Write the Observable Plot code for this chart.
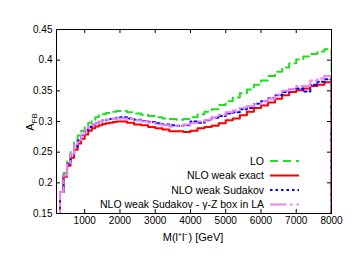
<!DOCTYPE html>
<html>
<head>
<meta charset="utf-8">
<script src="https://cdn.jsdelivr.net/npm/d3@7"></script>
<script src="https://cdn.jsdelivr.net/npm/@observablehq/plot@0.6"></script>
<style>
  html, body { margin: 0; padding: 0; background: #fff; }
  svg { display: block; }
</style>
</head>
<body>
<div id="chart"></div>
<script>
// Bin edges (GeV) of the histograms
const massEdges = [300,400,500,600,700,800,900,1000,1100,1200,1300,1400,1500,1600,1700,1800,1900,2000,
  2200,2400,2600,2800,3000,3200,3400,3600,3800,4000,4200,4400,4600,4800,5000,5200,5400,5600,5800,6000,
  6200,6400,6600,6800,7000,7200,7400,7600,7800,8000];

const loValues = [0.186,0.216,0.236,0.252,0.266,0.277,0.285,0.291,0.298,0.303,0.307,0.310,0.312,0.314,0.315,0.316,0.317,
  0.317,0.315,0.313,0.311,0.309,0.307,0.305,0.304,0.303,0.304,0.307,0.312,0.316,0.320,0.327,0.333,0.339,0.346,0.352,
  0.360,0.367,0.374,0.381,0.388,0.395,0.401,0.406,0.410,0.414,0.418];

const exactValues = [0.185,0.210,0.228,0.241,0.254,0.264,0.272,0.279,0.285,0.289,0.292,0.294,0.296,0.297,0.298,0.299,0.300,
  0.300,0.298,0.295,0.294,0.291,0.289,0.287,0.284,0.284,0.283,0.285,0.289,0.291,0.293,0.297,0.302,0.305,0.310,0.316,
  0.322,0.326,0.331,0.337,0.343,0.348,0.351,0.354,0.358,0.360,0.364];

const sudakovValues = [0.185,0.212,0.231,0.246,0.259,0.269,0.278,0.285,0.291,0.295,0.298,0.300,0.302,0.303,0.304,0.305,0.306,
  0.307,0.305,0.303,0.301,0.299,0.297,0.295,0.294,0.293,0.294,0.300,0.298,0.302,0.306,0.309,0.313,0.315,0.320,0.322,
  0.329,0.333,0.338,0.343,0.348,0.353,0.354,0.349,0.360,0.365,0.369];

const boxValues = [0.185,0.212,0.232,0.247,0.261,0.270,0.279,0.286,0.292,0.296,0.298,0.300,0.302,0.303,0.304,0.305,0.305,
  0.305,0.304,0.302,0.300,0.298,0.295,0.294,0.292,0.293,0.295,0.297,0.300,0.303,0.307,0.311,0.315,0.318,0.323,0.325,
  0.328,0.333,0.337,0.344,0.350,0.353,0.358,0.358,0.367,0.370,0.374];

const seriesNames = ["LO", "NLO weak exact", "NLO weak Sudakov", "NLO weak Sudakov - \u03B3-Z box in LA"];
const seriesColors = ["#22dd22", "#ff0000", "#0000ff", "#ee82ee"];
const seriesDash = ["8,5", null, "2.5,3", "16,4,2.5,4"];

const xTicks = [1000,2000,3000,4000,5000,6000,7000,8000];
const yTicks = [0.15,0.2,0.25,0.3,0.35,0.4,0.45];

const xLabel = "M(l\u207Al\u207B) [GeV]";
const yLabelMain = "A";
const yLabelSub = "FB";

const allValues = [loValues, exactValues, sudakovValues, boxValues];

function stepRows(vals, name) {
  const n = massEdges.length - 1;
  const rows = [{m: massEdges[0], a: 0, s: name}];
  vals.forEach((v, i) => rows.push({m: massEdges[i], a: v, s: name}));
  rows.push({m: massEdges[n], a: vals[vals.length - 1], s: name});
  rows.push({m: massEdges[n], a: 0, s: name});
  return rows;
}

const W = 352, H = 272;
const mL = 56, mR = 21, mT = 29, mB = 59;
const innerH = H - mT - mB, innerW = W - mL - mR;
const tk = 4;

const lineMarks = allValues.map((vals, i) =>
  Plot.line(stepRows(vals, seriesNames[i]), {
    x: "m", y: "a", curve: "step-after",
    stroke: seriesColors[i], strokeWidth: 2,
    strokeDasharray: seriesDash[i] || undefined,
    clip: true
  })
);

const fmtY = d => String(+d.toFixed(2));
const fmtX = d => String(d);

const svg = Plot.plot({
  width: W, height: H,
  marginLeft: mL, marginRight: mR, marginTop: mT, marginBottom: mB,
  style: {fontFamily: "'Liberation Sans', Arial, Helvetica, sans-serif", fontSize: "10px", color: "#000", background: "#fff"},
  x: {domain: [200, 8000]},
  y: {domain: [0.15, 0.45]},
  marks: [
    ...lineMarks,
    Plot.tickX(xTicks, {x: d => d, insetTop: innerH - tk, stroke: "#000"}),
    Plot.tickX(xTicks, {x: d => d, insetBottom: innerH - tk, stroke: "#000"}),
    Plot.tickY(yTicks, {y: d => d, insetRight: innerW - tk, stroke: "#000"}),
    Plot.tickY(yTicks, {y: d => d, insetLeft: innerW - tk, stroke: "#000"}),
    Plot.axisX(xTicks, {tickSize: 0, tickPadding: 3, label: null, tickFormat: fmtX, fontSize: 10}),
    Plot.axisY(yTicks, {tickSize: 0, tickPadding: 4, label: null, tickFormat: fmtY, fontSize: 10}),
    Plot.frame({stroke: "#000", strokeWidth: 1})
  ]
});

const root = d3.select(svg);

// x label
root.append("text")
  .attr("x", 193).attr("y", 241)
  .attr("text-anchor", "middle")
  .attr("font-size", 11)
  .attr("fill", "#000")
  .text(xLabel);

// y label with subscript
const yl = root.append("text")
  .attr("transform", "translate(33.5,122) rotate(-90)")
  .attr("text-anchor", "middle")
  .attr("font-size", 11)
  .attr("fill", "#000");
yl.append("tspan").text(yLabelMain);
yl.append("tspan").attr("font-size", 8).attr("dy", 3).text(yLabelSub);

// legend
const rowY = [161, 175.5, 190, 204.5];
const lg = root.append("g");
seriesNames.forEach((name, i) => {
  lg.append("text")
    .attr("x", 264).attr("y", rowY[i])
    .attr("dy", "0.35em")
    .attr("text-anchor", "end")
    .attr("font-size", 10.5)
    .attr("fill", "#000")
    .text(name);
  lg.append("line")
    .attr("x1", 270).attr("x2", 299)
    .attr("y1", rowY[i]).attr("y2", rowY[i])
    .attr("stroke", seriesColors[i])
    .attr("stroke-width", 2)
    .attr("stroke-dasharray", seriesDash[i]);
});

document.getElementById("chart").appendChild(svg);
</script>
</body>
</html>
